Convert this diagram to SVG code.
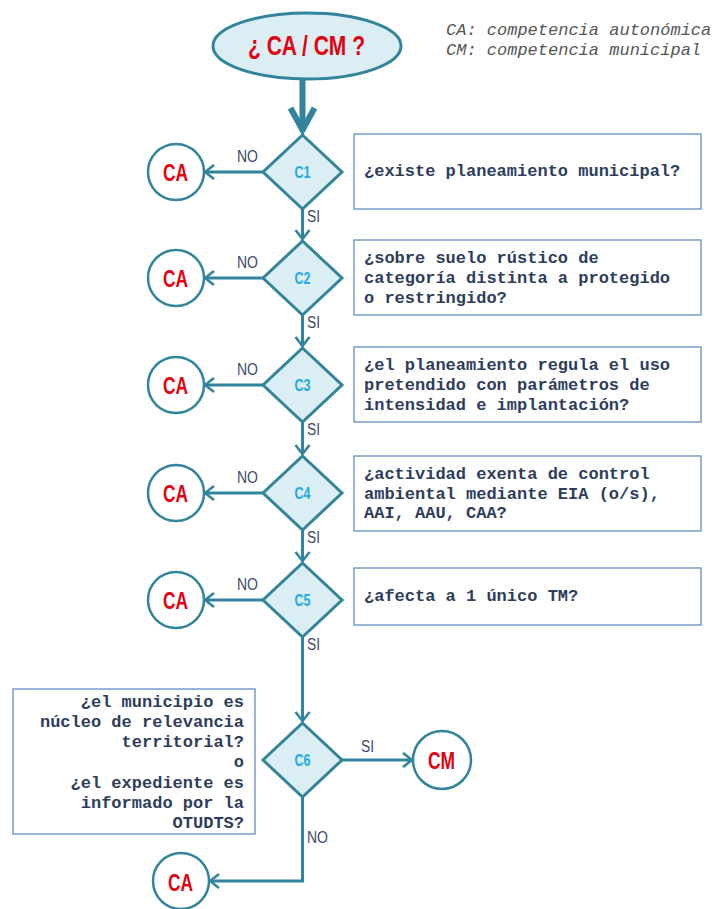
<svg xmlns="http://www.w3.org/2000/svg" width="714" height="909" viewBox="0 0 714 909">
<defs>
<style>
.bg{fill:#ffffff}
.ell{fill:#dbeef4;stroke:#31849b;stroke-width:3}
.dia{fill:#dbeef4;stroke:#31849b;stroke-width:3;stroke-linejoin:miter}
.cir{fill:#ffffff;stroke:#31849b;stroke-width:2.5}
.box{fill:#ffffff;stroke:#7095c9;stroke-width:1.4}
.con{fill:none;stroke:#31849b;stroke-width:3}
.thick{fill:none;stroke:#31849b;stroke-width:6}
.q{font-family:"Liberation Mono","Courier New",monospace;font-weight:bold;font-size:17px;fill:#2d3d5c}
.leg{font-family:"Liberation Mono","Courier New",monospace;font-style:italic;font-size:17px;fill:#555555}
.cl{font-family:"Liberation Sans Narrow","Liberation Sans",Arial,sans-serif;font-weight:bold;font-size:17px;fill:#22a9e6;text-anchor:middle}
.red{font-family:"Liberation Sans Narrow","Liberation Sans",Arial,sans-serif;font-weight:bold;font-size:24px;fill:#e3000f;text-anchor:middle}
.lab{font-family:"Liberation Sans Narrow","Liberation Sans",Arial,sans-serif;font-size:16px;fill:#3a4a6b}
</style>
<marker id="ah" markerUnits="userSpaceOnUse" viewBox="-12 -9 14 18" refX="0" refY="0" markerWidth="14" markerHeight="18" orient="auto">
<path d="M-9,-7 L0,0 L-9,7" fill="none" stroke="#31849b" stroke-width="2.6"/>
</marker>
<marker id="ahb" markerUnits="userSpaceOnUse" viewBox="-28 -16 32 32" refX="0" refY="0" markerWidth="32" markerHeight="32" orient="auto">
<path d="M-23,-12 L-1,0 L-23,12" fill="none" stroke="#31849b" stroke-width="6"/>
</marker>
</defs>
<rect class="bg" x="0" y="0" width="714" height="909"/>

<g id="legend">
<text class="leg" x="446" y="35">CA: competencia autonómica</text>
<text class="leg" x="446" y="55">CM: competencia municipal</text>
</g>

<g id="connectors">
<line class="thick" x1="302.5" y1="79" x2="302.5" y2="131" marker-end="url(#ahb)"/>
<line class="con" x1="302.5" y1="209" x2="302.5" y2="239" marker-end="url(#ah)"/>
<line class="con" x1="302.5" y1="315" x2="302.5" y2="346" marker-end="url(#ah)"/>
<line class="con" x1="302.5" y1="422" x2="302.5" y2="454" marker-end="url(#ah)"/>
<line class="con" x1="302.5" y1="530" x2="302.5" y2="561" marker-end="url(#ah)"/>
<line class="con" x1="302.5" y1="637" x2="302.5" y2="721" marker-end="url(#ah)"/>
<line class="con" x1="263" y1="172" x2="205" y2="172" marker-end="url(#ah)"/>
<line class="con" x1="263" y1="278" x2="205" y2="278" marker-end="url(#ah)"/>
<line class="con" x1="263" y1="385" x2="205" y2="385" marker-end="url(#ah)"/>
<line class="con" x1="263" y1="493" x2="205" y2="493" marker-end="url(#ah)"/>
<line class="con" x1="263" y1="600" x2="205" y2="600" marker-end="url(#ah)"/>
<line class="con" x1="342" y1="760" x2="412" y2="760" marker-end="url(#ah)"/>
<polyline class="con" points="302.5,797 302.5,881 210,881" marker-end="url(#ah)"/>
<text class="lab" x="237" y="162" textLength="21" lengthAdjust="spacingAndGlyphs">NO</text>
<text class="lab" x="237" y="268" textLength="21" lengthAdjust="spacingAndGlyphs">NO</text>
<text class="lab" x="237" y="375" textLength="21" lengthAdjust="spacingAndGlyphs">NO</text>
<text class="lab" x="237" y="483" textLength="21" lengthAdjust="spacingAndGlyphs">NO</text>
<text class="lab" x="237" y="590" textLength="21" lengthAdjust="spacingAndGlyphs">NO</text>
<text class="lab" x="307" y="222" textLength="13" lengthAdjust="spacingAndGlyphs">SI</text>
<text class="lab" x="307" y="328" textLength="13" lengthAdjust="spacingAndGlyphs">SI</text>
<text class="lab" x="307" y="435" textLength="13" lengthAdjust="spacingAndGlyphs">SI</text>
<text class="lab" x="307" y="543" textLength="13" lengthAdjust="spacingAndGlyphs">SI</text>
<text class="lab" x="307" y="650" textLength="13" lengthAdjust="spacingAndGlyphs">SI</text>
<text class="lab" x="361" y="752" textLength="13" lengthAdjust="spacingAndGlyphs">SI</text>
<text class="lab" x="307" y="843" textLength="21" lengthAdjust="spacingAndGlyphs">NO</text>
</g>

<g id="start">
<ellipse class="ell" cx="307" cy="46" rx="94" ry="33"/>
<text x="306.5" y="55" font-family="'Liberation Sans Narrow','Liberation Sans',Arial,sans-serif" font-weight="bold" font-size="28" fill="#e3000f" text-anchor="middle" textLength="117" lengthAdjust="spacingAndGlyphs">¿ CA / CM ?</text>
</g>

<g id="C1">
<polygon class="dia" points="302.5,135 342,172 302.5,209 263,172"/>
<text class="cl" x="302.5" y="178" textLength="16" lengthAdjust="spacingAndGlyphs">C1</text>
</g>
<g id="C2">
<polygon class="dia" points="302.5,241 342,278 302.5,315 263,278"/>
<text class="cl" x="302.5" y="284" textLength="16" lengthAdjust="spacingAndGlyphs">C2</text>
</g>
<g id="C3">
<polygon class="dia" points="302.5,348 342,385 302.5,422 263,385"/>
<text class="cl" x="302.5" y="391" textLength="16" lengthAdjust="spacingAndGlyphs">C3</text>
</g>
<g id="C4">
<polygon class="dia" points="302.5,456 342,493 302.5,530 263,493"/>
<text class="cl" x="302.5" y="499" textLength="16" lengthAdjust="spacingAndGlyphs">C4</text>
</g>
<g id="C5">
<polygon class="dia" points="302.5,563 342,600 302.5,637 263,600"/>
<text class="cl" x="302.5" y="606" textLength="16" lengthAdjust="spacingAndGlyphs">C5</text>
</g>
<g id="C6">
<polygon class="dia" points="302.5,723 342,760 302.5,797 263,760"/>
<text class="cl" x="302.5" y="766" textLength="16" lengthAdjust="spacingAndGlyphs">C6</text>
</g>

<g id="CA1">
<circle class="cir" cx="176" cy="172" r="28"/>
<text class="red" x="175.5" y="181" textLength="25" lengthAdjust="spacingAndGlyphs">CA</text>
</g>
<g id="CA2">
<circle class="cir" cx="176" cy="278" r="28"/>
<text class="red" x="175.5" y="287" textLength="25" lengthAdjust="spacingAndGlyphs">CA</text>
</g>
<g id="CA3">
<circle class="cir" cx="176" cy="385" r="28"/>
<text class="red" x="175.5" y="394" textLength="25" lengthAdjust="spacingAndGlyphs">CA</text>
</g>
<g id="CA4">
<circle class="cir" cx="176" cy="493" r="28"/>
<text class="red" x="175.5" y="502" textLength="25" lengthAdjust="spacingAndGlyphs">CA</text>
</g>
<g id="CA5">
<circle class="cir" cx="176" cy="600" r="28"/>
<text class="red" x="175.5" y="609" textLength="25" lengthAdjust="spacingAndGlyphs">CA</text>
</g>
<g id="CA6">
<circle class="cir" cx="181" cy="881" r="28"/>
<text class="red" x="180.5" y="891" textLength="25" lengthAdjust="spacingAndGlyphs">CA</text>
</g>
<g id="CM">
<circle class="cir" cx="442" cy="760" r="29"/>
<text class="red" x="441.5" y="769" textLength="27" lengthAdjust="spacingAndGlyphs">CM</text>
</g>

<g id="Q1">
<rect class="box" x="354" y="134" width="347" height="75"/>
<text class="q" x="364" y="176">¿existe planeamiento municipal?</text>
</g>
<g id="Q2">
<rect class="box" x="354" y="240" width="347" height="75"/>
<text class="q" x="364" y="263">¿sobre suelo rústico de</text>
<text class="q" x="364" y="283">categoría distinta a protegido</text>
<text class="q" x="364" y="303">o restringido?</text>
</g>
<g id="Q3">
<rect class="box" x="354" y="347" width="347" height="75"/>
<text class="q" x="364" y="370">¿el planeamiento regula el uso</text>
<text class="q" x="364" y="390">pretendido con parámetros de</text>
<text class="q" x="364" y="410">intensidad e implantación?</text>
</g>
<g id="Q4">
<rect class="box" x="354" y="456" width="347" height="75"/>
<text class="q" x="364" y="479">¿actividad exenta de control</text>
<text class="q" x="364" y="499">ambiental mediante EIA (o/s),</text>
<text class="q" x="364" y="518">AAI, AAU, CAA?</text>
</g>
<g id="Q5">
<rect class="box" x="354" y="568" width="347" height="57"/>
<text class="q" x="364" y="601">¿afecta a 1 único TM?</text>
</g>
<g id="Q6">
<rect class="box" x="13" y="689" width="242" height="145"/>
<g text-anchor="end">
<text class="q" x="244" y="707">¿el municipio es</text>
<text class="q" x="244" y="727">núcleo de relevancia</text>
<text class="q" x="244" y="747">territorial?</text>
<text class="q" x="244" y="767">o</text>
<text class="q" x="244" y="788">¿el expediente es</text>
<text class="q" x="244" y="808">informado por la</text>
<text class="q" x="244" y="828">OTUDTS?</text>
</g>
</g>
</svg>
